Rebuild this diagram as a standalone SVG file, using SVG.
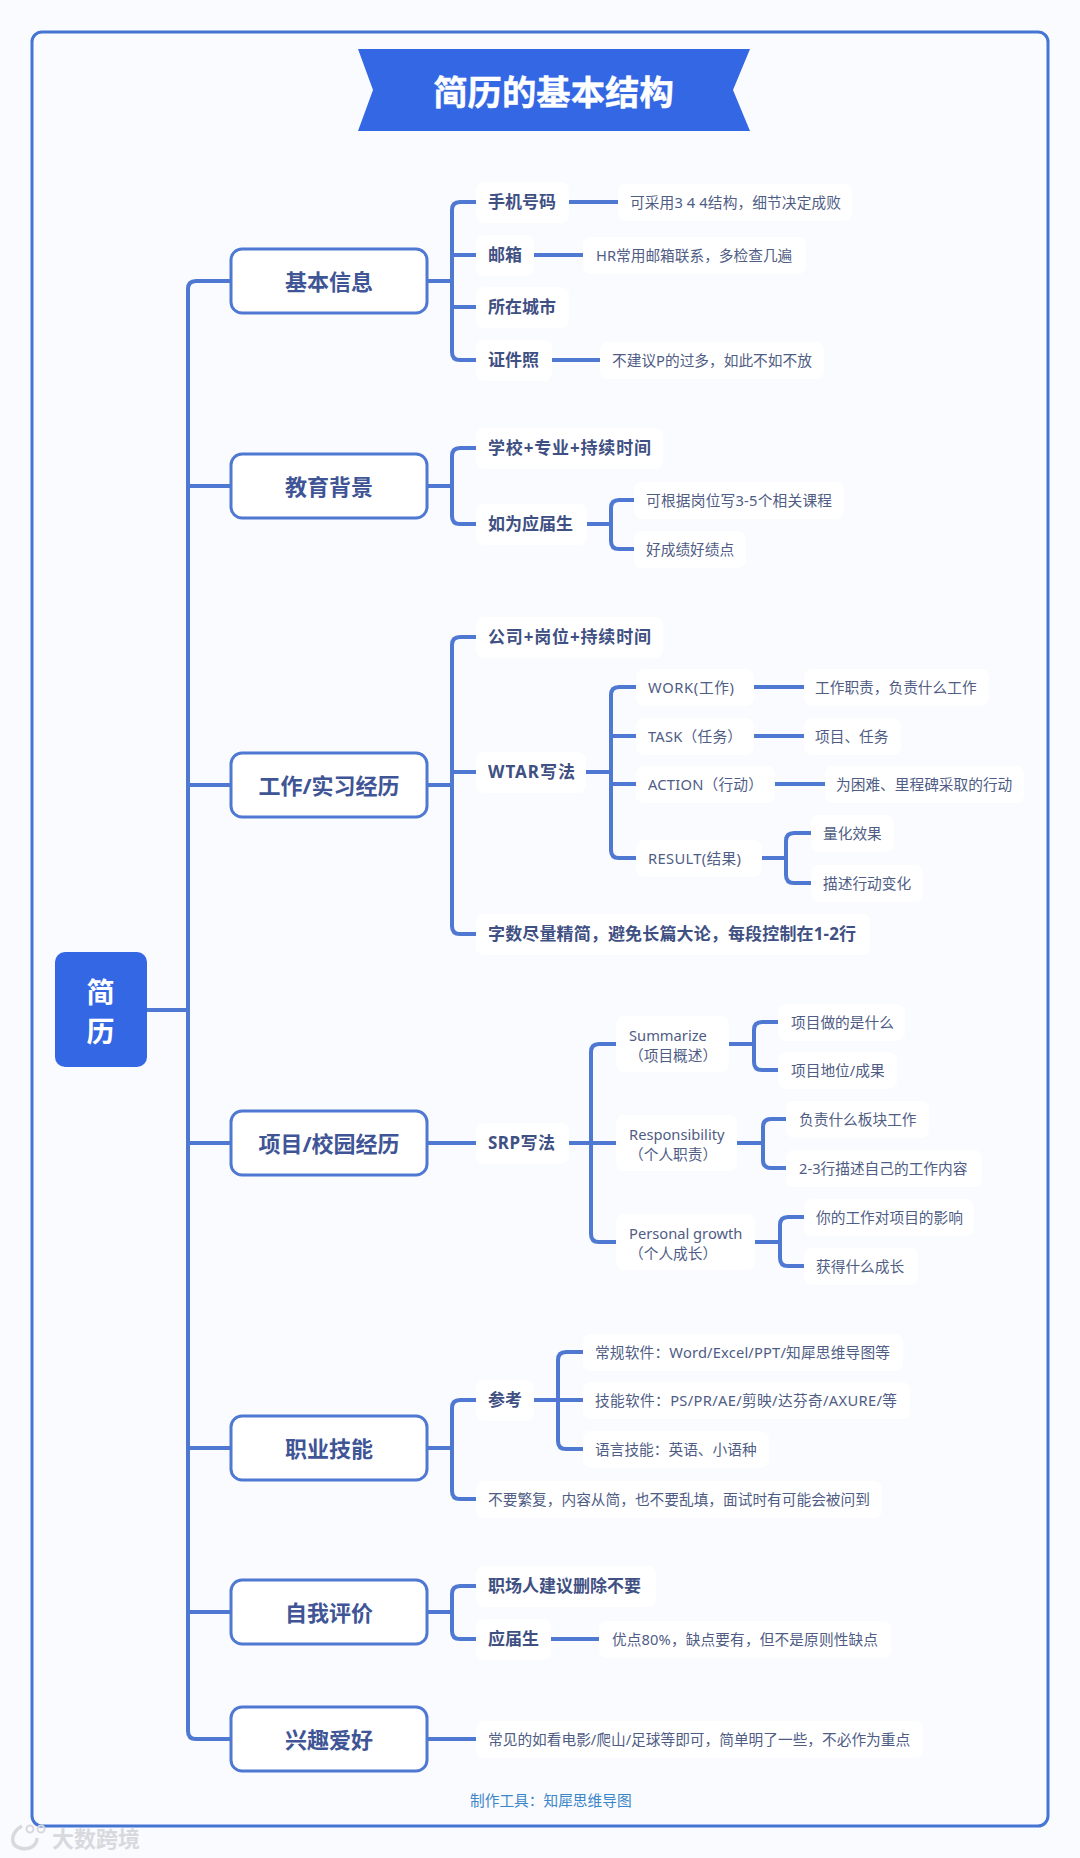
<svg xmlns="http://www.w3.org/2000/svg" width="1080" height="1858" viewBox="0 0 1080 1858">
<style>
text{font-family:"Noto Sans","Noto Sans CJK SC",sans-serif;dominant-baseline:central;transform:translateY(-0.2px)}
.c{fill:#fff}
.l1{font-size:22px;font-weight:700;fill:#3f5596;text-anchor:middle}
.l2{font-size:17px;font-weight:700;fill:#3f5083}
.l3{font-size:14.7px;fill:#4f5d85}
.box{fill:#fff;stroke:#4f78d2;stroke-width:3}
.con{fill:none;stroke:#4f78d2;stroke-width:4}
</style>
<rect width="1080" height="1858" fill="#fafbff"/>
<rect x="32" y="32" width="1016" height="1794" rx="10" fill="#fafbff" stroke="#4474d4" stroke-width="3"/>
<g id="title"><polygon points="358,49 750,49 733,90 750,131 358,131 373,90" fill="#3467e3"/><text x="553.5" y="92" font-size="34.4" font-weight="700" fill="#fff" stroke="#fff" stroke-width="0.4" text-anchor="middle">简历的基本结构</text></g>
<g id="connectors">
<path class="con" d="M147 1010H188M231 281H196Q188 281 188 289V1731Q188 1739 196 1739H231M188 486H231M188 785H231M188 1143H231M188 1448H231M188 1612H231"/>
<path class="con" d="M427 281H452M476 202H460Q452 202 452 210V352Q452 360 460 360H476M452 255H476M452 307H476M569 202H618M534 255H583M552 360H600"/>
<path class="con" d="M427 486H452M476 448H460Q452 448 452 456V516Q452 524 460 524H476M587 524H611M634 500H619Q611 500 611 508V541Q611 549 619 549H634"/>
<path class="con" d="M427 785H452M476 637H460Q452 637 452 645V926Q452 934 460 934H476M452 772H476M586 772H611M636 687H619Q611 687 611 695V850Q611 858 619 858H636M611 736H636M611 784H636M754 687H804M754 736H804M775 784H825M762 858H786M811 833H794Q786 833 786 841V875Q786 883 794 883H811"/>
<path class="con" d="M427 1143H476M569 1143H591M616 1044H599Q591 1044 591 1052V1234Q591 1242 599 1242H616M591 1143H616M729 1044H754M778 1022H762Q754 1022 754 1030V1062Q754 1070 762 1070H778M737 1143H763M786 1119H771Q763 1119 763 1127V1160Q763 1168 771 1168H786M755 1242H780M804 1217H788Q780 1217 780 1225V1258Q780 1266 788 1266H804"/>
<path class="con" d="M427 1448H452M476 1400H460Q452 1400 452 1408V1491Q452 1499 460 1499H476M522 1400H558M583 1352H566Q558 1352 558 1360V1441Q558 1449 566 1449H583M558 1400H583"/>
<path class="con" d="M427 1612H452M476 1586H460Q452 1586 452 1594V1631Q452 1639 460 1639H476M551 1639H599M427 1739H476"/>
</g>
<g id="root"><rect x="55" y="952" width="92" height="115" rx="10" fill="#3467e3"/><text x="100.5" y="992" font-size="28" font-weight="700" fill="#fff" text-anchor="middle">简</text><text x="100.5" y="1031" font-size="28" font-weight="700" fill="#fff" text-anchor="middle">历</text></g>
<g id="n1"><rect class="box" x="231" y="249" width="196" height="64" rx="11"/><text class="l1" x="329" y="281">基本信息</text></g>
<g id="n1-1"><rect class="c" x="476" y="182" width="93" height="41" rx="8"/><text class="l2" x="488" y="202">手机号码</text></g>
<g id="n1-1-1"><rect class="c" x="618" y="184" width="234" height="37" rx="8"/><text class="l3" x="630" y="202" textLength="211">可采用3 4 4结构，细节决定成败</text></g>
<g id="n1-2"><rect class="c" x="476" y="235" width="58" height="41" rx="8"/><text class="l2" x="488" y="255">邮箱</text></g>
<g id="n1-2-1"><rect class="c" x="583" y="237" width="223" height="37" rx="8"/><text class="l3" x="596" y="255">HR常用邮箱联系，多检查几遍</text></g>
<g id="n1-3"><rect class="c" x="476" y="287" width="93" height="41" rx="8"/><text class="l2" x="488" y="307">所在城市</text></g>
<g id="n1-4"><rect class="c" x="476" y="340" width="76" height="41" rx="8"/><text class="l2" x="488" y="360">证件照</text></g>
<g id="n1-4-1"><rect class="c" x="600" y="342" width="224" height="37" rx="8"/><text class="l3" x="612" y="360">不建议P的过多，如此不如不放</text></g>
<g id="n2"><rect class="box" x="231" y="454" width="196" height="64" rx="11"/><text class="l1" x="329" y="486">教育背景</text></g>
<g id="n2-1"><rect class="c" x="476" y="428" width="187" height="41" rx="8"/><text class="l2" x="488" y="448" textLength="163">学校+专业+持续时间</text></g>
<g id="n2-2"><rect class="c" x="476" y="504" width="111" height="41" rx="8"/><text class="l2" x="488" y="524">如为应届生</text></g>
<g id="n2-2-1"><rect class="c" x="634" y="482" width="210" height="37" rx="8"/><text class="l3" x="646" y="500" textLength="186">可根据岗位写3-5个相关课程</text></g>
<g id="n2-2-2"><rect class="c" x="634" y="531" width="112" height="37" rx="8"/><text class="l3" x="646" y="549">好成绩好绩点</text></g>
<g id="n3"><rect class="box" x="231" y="753" width="196" height="64" rx="11"/><text class="l1" x="329" y="785">工作/实习经历</text></g>
<g id="n3-1"><rect class="c" x="476" y="617" width="187" height="41" rx="8"/><text class="l2" x="488" y="637" textLength="163">公司+岗位+持续时间</text></g>
<g id="n3-2"><rect class="c" x="476" y="752" width="110" height="41" rx="8"/><text class="l2" x="488" y="772" textLength="87">WTAR写法</text></g>
<g id="n3-2-1"><rect class="c" x="636" y="669" width="118" height="37" rx="8"/><text class="l3" x="648" y="687" textLength="86">WORK(工作)</text></g>
<g id="n3-2-1-1"><rect class="c" x="804" y="669" width="185" height="37" rx="8"/><text class="l3" x="815" y="687">工作职责，负责什么工作</text></g>
<g id="n3-2-2"><rect class="c" x="636" y="718" width="118" height="37" rx="8"/><text class="l3" x="648" y="736" textLength="94">TASK（任务）</text></g>
<g id="n3-2-2-1"><rect class="c" x="804" y="718" width="97" height="37" rx="8"/><text class="l3" x="815" y="736">项目、任务</text></g>
<g id="n3-2-3"><rect class="c" x="636" y="766" width="139" height="37" rx="8"/><text class="l3" x="648" y="784" textLength="115">ACTION（行动）</text></g>
<g id="n3-2-3-1"><rect class="c" x="825" y="766" width="199" height="37" rx="8"/><text class="l3" x="836" y="784">为困难、里程碑采取的行动</text></g>
<g id="n3-2-4"><rect class="c" x="636" y="840" width="126" height="37" rx="8"/><text class="l3" x="648" y="858" textLength="93">RESULT(结果)</text></g>
<g id="n3-2-4-1"><rect class="c" x="811" y="815" width="83" height="37" rx="8"/><text class="l3" x="823" y="833">量化效果</text></g>
<g id="n3-2-4-2"><rect class="c" x="811" y="865" width="112" height="37" rx="8"/><text class="l3" x="823" y="883">描述行动变化</text></g>
<g id="n3-3"><rect class="c" x="476" y="914" width="394" height="41" rx="8"/><text class="l2" x="488" y="934" textLength="368">字数尽量精简，避免长篇大论，每段控制在1-2行</text></g>
<g id="n4"><rect class="box" x="231" y="1111" width="196" height="64" rx="11"/><text class="l1" x="329" y="1143">项目/校园经历</text></g>
<g id="n4-1"><rect class="c" x="476" y="1123" width="93" height="41" rx="8"/><text class="l2" x="488" y="1143" textLength="67">SRP写法</text></g>
<g id="n4-1-1"><rect class="c" x="616" y="1016" width="113" height="56" rx="8"/><text class="l3" x="629" y="1035">Summarize</text><text class="l3" x="629" y="1055">（项目概述）</text></g>
<g id="n4-1-1-1"><rect class="c" x="778" y="1004" width="127" height="37" rx="8"/><text class="l3" x="791" y="1022">项目做的是什么</text></g>
<g id="n4-1-1-2"><rect class="c" x="778" y="1052" width="119" height="37" rx="8"/><text class="l3" x="791" y="1070">项目地位/成果</text></g>
<g id="n4-1-2"><rect class="c" x="616" y="1115" width="121" height="56" rx="8"/><text class="l3" x="629" y="1134">Responsibility</text><text class="l3" x="629" y="1154">（个人职责）</text></g>
<g id="n4-1-2-1"><rect class="c" x="786" y="1101" width="143" height="37" rx="8"/><text class="l3" x="799" y="1119">负责什么板块工作</text></g>
<g id="n4-1-2-2"><rect class="c" x="786" y="1150" width="196" height="37" rx="8"/><text class="l3" x="799" y="1168">2-3行描述自己的工作内容</text></g>
<g id="n4-1-3"><rect class="c" x="616" y="1214" width="139" height="56" rx="8"/><text class="l3" x="629" y="1233">Personal growth</text><text class="l3" x="629" y="1253">（个人成长）</text></g>
<g id="n4-1-3-1"><rect class="c" x="804" y="1199" width="170" height="37" rx="8"/><text class="l3" x="816" y="1217">你的工作对项目的影响</text></g>
<g id="n4-1-3-2"><rect class="c" x="804" y="1248" width="114" height="37" rx="8"/><text class="l3" x="816" y="1266">获得什么成长</text></g>
<g id="n5"><rect class="box" x="231" y="1416" width="196" height="64" rx="11"/><text class="l1" x="329" y="1448">职业技能</text></g>
<g id="n5-1"><rect class="c" x="476" y="1380" width="58" height="41" rx="8"/><text class="l2" x="488" y="1400">参考</text></g>
<g id="n5-1-1"><rect class="c" x="583" y="1334" width="320" height="37" rx="8"/><text class="l3" x="595" y="1352" textLength="295">常规软件：Word/Excel/PPT/知犀思维导图等</text></g>
<g id="n5-1-2"><rect class="c" x="583" y="1382" width="327" height="37" rx="8"/><text class="l3" x="595" y="1400" textLength="302">技能软件：PS/PR/AE/剪映/达芬奇/AXURE/等</text></g>
<g id="n5-1-3"><rect class="c" x="583" y="1431" width="186" height="37" rx="8"/><text class="l3" x="595" y="1449">语言技能：英语、小语种</text></g>
<g id="n5-2"><rect class="c" x="476" y="1481" width="406" height="37" rx="8"/><text class="l3" x="488" y="1499">不要繁复，内容从简，也不要乱填，面试时有可能会被问到</text></g>
<g id="n6"><rect class="box" x="231" y="1580" width="196" height="64" rx="11"/><text class="l1" x="329" y="1612">自我评价</text></g>
<g id="n6-1"><rect class="c" x="476" y="1566" width="180" height="41" rx="8"/><text class="l2" x="488" y="1586">职场人建议删除不要</text></g>
<g id="n6-2"><rect class="c" x="476" y="1619" width="75" height="41" rx="8"/><text class="l2" x="488" y="1639">应届生</text></g>
<g id="n6-2-1"><rect class="c" x="599" y="1621" width="292" height="37" rx="8"/><text class="l3" x="612" y="1639" textLength="266">优点80%，缺点要有，但不是原则性缺点</text></g>
<g id="n7"><rect class="box" x="231" y="1707" width="196" height="64" rx="11"/><text class="l1" x="329" y="1739">兴趣爱好</text></g>
<g id="n7-1"><rect class="c" x="476" y="1721" width="447" height="37" rx="8"/><text class="l3" x="488" y="1739">常见的如看电影/爬山/足球等即可，简单明了一些，不必作为重点</text></g>
<text x="470" y="1800" font-size="14.7" fill="#3a86c8">制作工具：知犀思维导图</text>
<g id="watermark"><path d="M22 1826C11 1832 9 1845 20 1848M20 1848C30 1851 37 1845 37 1838" fill="none" stroke="#d8d9de" stroke-width="3.5"/><circle cx="30" cy="1829" r="3.5" fill="none" stroke="#d8d9de" stroke-width="2"/><circle cx="41" cy="1829" r="3.5" fill="none" stroke="#d8d9de" stroke-width="2"/><text x="52" y="1838" font-size="22" font-weight="700" fill="#d8d9de">大数跨境</text></g>
</svg>
